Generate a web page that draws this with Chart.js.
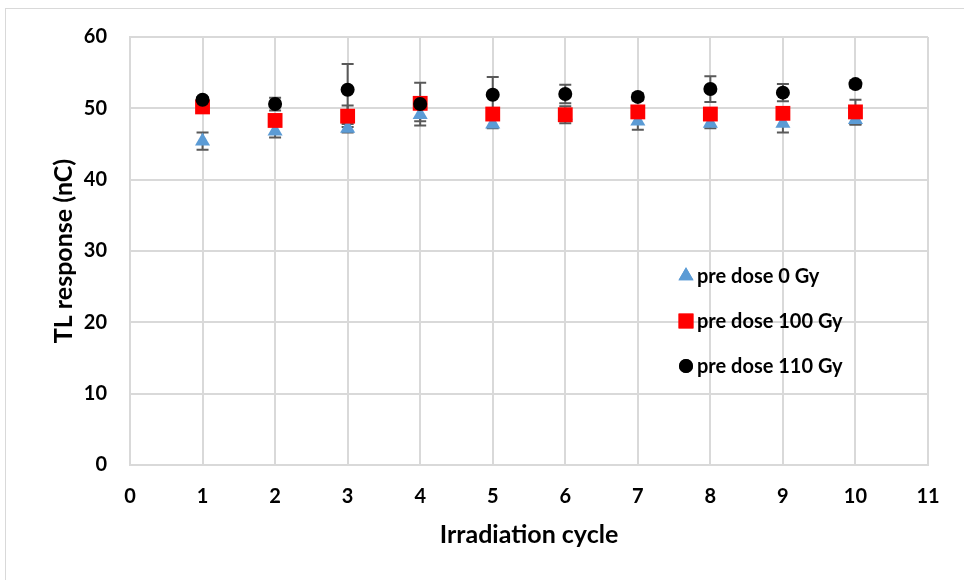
<!DOCTYPE html>
<html lang="en">
<head>
<meta charset="UTF-8">
<title>TL response vs irradiation cycle</title>
<script src="https://cdn.jsdelivr.net/npm/chart.js"></script>
<style>
    body { margin: 0; background: #fff; }
    #wrap { position: relative; width: 964px; height: 580px; }
    #frame {
        position: absolute; left: 5px; top: 8px; width: 1000px; height: 620px;
        border: 1px solid #d9d9d9; pointer-events: none;
    }
    canvas { position: absolute; left: 0; top: 0; }
</style>
</head>
<body>
<div id="wrap">
    <div id="frame"></div>
    <canvas id="chart" width="964" height="580"></canvas>
</div>
<script>
    // Irradiation cycles and measured TL response (nC) with standard deviations
    const cycles = [1, 2, 3, 4, 5, 6, 7, 8, 9, 10];
    const dose0 = [45.4, 46.8, 47.2, 49.1, 47.8, 49.0, 48.2, 47.9, 47.9, 48.4];
    const dose0Err = [1.2, 0.9, 0.6, 0.9, 0.6, 0.5, 1.2, 0.7, 1.3, 0.7];
    const dose100 = [50.2, 48.3, 48.9, 50.7, 49.2, 49.1, 49.5, 49.2, 49.3, 49.5];
    const dose100Err = [0.6, 0.5, 1.5, 0.8, 0.5, 1.2, 0.5, 0.6, 0.6, 1.7];
    const dose110 = [51.2, 50.6, 52.6, 50.6, 51.9, 52.0, 51.6, 52.7, 52.2, 53.4];
    const dose110Err = [0.4, 0.9, 3.6, 3.0, 2.5, 1.3, 0.5, 1.8, 1.2, 0.5];

    const seriesLabels = ['pre dose 0 Gy', 'pre dose 100 Gy', 'pre dose 110 Gy'];
    const FONT = 'Lato, "Liberation Sans", sans-serif';

    const toPoints = vals => cycles.map((c, i) => ({ x: c, y: vals[i] }));

    // vertical error bars with caps, drawn under the markers
    const errorBars = {
        id: 'errorBars',
        beforeDatasetsDraw(chart) {
            const ctx = chart.ctx;
            const yScale = chart.scales.y;
            ctx.save();
            ctx.strokeStyle = '#595959';
            ctx.lineWidth = 2;
            chart.data.datasets.forEach((ds, di) => {
                const meta = chart.getDatasetMeta(di);
                meta.data.forEach((pt, i) => {
                    const v = ds.data[i].y, e = ds.errors[i];
                    const top = yScale.getPixelForValue(v + e);
                    const bot = yScale.getPixelForValue(v - e);
                    ctx.beginPath();
                    ctx.moveTo(pt.x, top); ctx.lineTo(pt.x, bot);
                    ctx.moveTo(pt.x - 6, top); ctx.lineTo(pt.x + 6, top);
                    ctx.moveTo(pt.x - 6, bot); ctx.lineTo(pt.x + 6, bot);
                    ctx.stroke();
                });
            });
            ctx.restore();
        }
    };

    // legend placed inside the plot area
    const innerLegend = {
        id: 'innerLegend',
        afterDraw(chart) {
            const ctx = chart.ctx;
            ctx.save();
            ctx.font = 'bold 20px ' + FONT;
            ctx.textBaseline = 'middle';
            chart.data.datasets.forEach((ds, i) => {
                const y = 276 + i * 45;
                ctx.fillStyle = ds.backgroundColor;
                Chart.helpers.drawPoint(ctx, {
                    pointStyle: ds.pointStyle, radius: ds.pointRadius, rotation: 0, borderWidth: 0
                }, 686, y);
                ctx.fill();
                ctx.fillStyle = '#000';
                ctx.fillText(ds.label, 697, y + 1);
            });
            ctx.restore();
        }
    };

    const tickFont = { family: FONT, size: 20, weight: 'bold' };
    const titleFont = { family: FONT, size: 25, weight: 'bold' };

    new Chart(document.getElementById('chart'), {
        type: 'scatter',
        data: {
            datasets: [
                {
                    label: seriesLabels[0], data: toPoints(dose0), errors: dose0Err,
                    pointStyle: 'triangle', pointRadius: 8.7, backgroundColor: '#5b9bd5',
                    borderWidth: 0, order: 2
                },
                {
                    label: seriesLabels[1], data: toPoints(dose100), errors: dose100Err,
                    pointStyle: 'rect', pointRadius: 10.5, backgroundColor: '#ff0000',
                    borderWidth: 0, order: 1
                },
                {
                    label: seriesLabels[2], data: toPoints(dose110), errors: dose110Err,
                    pointStyle: 'circle', pointRadius: 7, backgroundColor: '#000000',
                    borderWidth: 0, order: 0
                }
            ]
        },
        options: {
            responsive: false,
            animation: false,
            layout: { padding: { left: 45, top: 37, right: 36, bottom: 26 } },
            plugins: { legend: { display: false }, tooltip: { enabled: false } },
            scales: {
                x: {
                    type: 'linear', min: 0, max: 11,
                    ticks: { stepSize: 1, padding: 20, color: '#000', font: tickFont },
                    grid: { color: '#d9d9d9', lineWidth: 2, drawTicks: false },
                    border: { color: '#d9d9d9', width: 2 },
                    title: { display: true, text: 'Irradiation cycle', color: '#000', padding: { top: 4, bottom: 4 },
                             font: titleFont },
                    afterFit(scale) { scale.height = 89; }
                },
                y: {
                    min: 0, max: 60,
                    ticks: { stepSize: 10, padding: 23, color: '#000', font: tickFont },
                    grid: { color: '#d9d9d9', lineWidth: 2, drawTicks: false },
                    border: { color: '#d9d9d9', width: 2 },
                    title: { display: true, text: 'TL response (nC)', color: '#000', padding: { top: 4, bottom: 4 },
                             font: titleFont },
                    afterFit(scale) { scale.width = 85; }
                }
            }
        },
        plugins: [errorBars, innerLegend]
    });
</script>
</body>
</html>
